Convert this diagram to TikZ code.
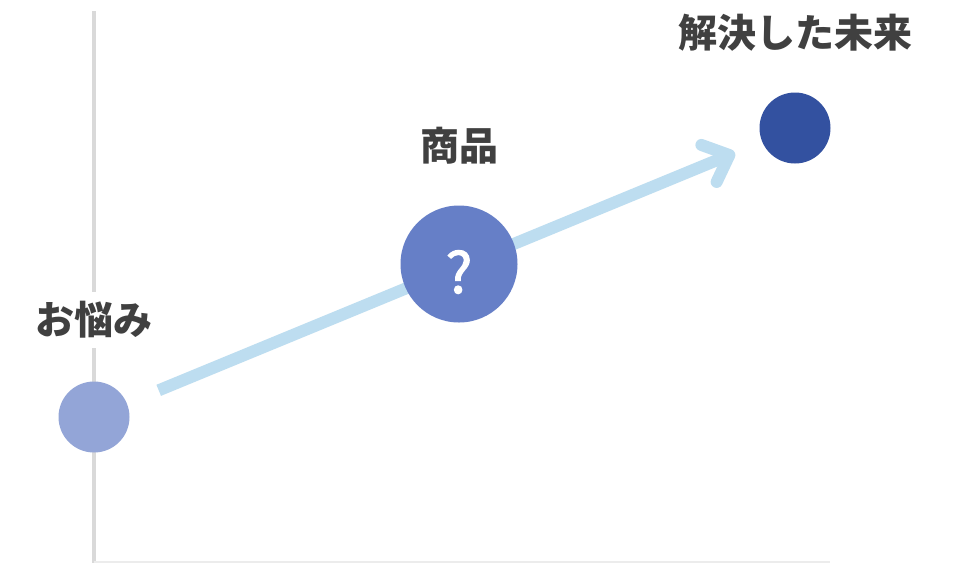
\documentclass[tikz,border=0pt]{standalone}
\usepackage{fontspec}
\newfontfamily\jpfont{Noto Sans CJK JP}
\newfontfamily\qfont{Noto Sans CJK JP}[FakeBold=2]
\usetikzlibrary{arrows.meta}
\definecolor{axisgray}{HTML}{D9D9D9}
\definecolor{basegray}{HTML}{ECECEC}
\definecolor{arrowblue}{HTML}{BDDDF0}
\definecolor{lowblue}{HTML}{93A5D7}
\definecolor{midblue}{HTML}{667FC7}
\definecolor{topblue}{HTML}{3351A0}
\definecolor{textgray}{HTML}{404040}
\begin{document}
\begin{tikzpicture}[x=1pt,y=-1pt,
    steplabel/.style={font=\jpfont\bfseries\fontsize{39}{39}\selectfont, text=textgray},
    dot/.style={circle, inner sep=0pt}]
  \useasboundingbox[fill=white] (0,0) rectangle (953,563);
  \draw[axisgray, line width=4.5] (94,11) -- (94,563);
  \draw[basegray, line width=1.5] (94,562) -- (830,562);
  \node[dot, fill=lowblue, minimum size=71] (worry) at (94,417) {};
  \node[dot, fill=topblue, minimum size=71] (future) at (795,128) {};
  \draw[arrowblue, line width=12, shorten <=70, shorten >=65,
    -{Straight Barb[length=22, width=40, line cap=round, line join=round]}]
    (worry.center) -- (future.center);
  \node[dot, fill=midblue, minimum size=117] (product) at (459,264) {};
  \node[font=\qfont\fontsize{56}{56}\selectfont, text=white, yshift=-8] (qmark) at (product) {?};
  \node[steplabel, fill=white, inner sep=9] (worrylabel) at (94,320) {お悩み};
  \node[steplabel] (productlabel) at (459,146) {商品};
  \node[steplabel] (futurelabel) at (795,33) {解決した未来};
\end{tikzpicture}
\end{document}
